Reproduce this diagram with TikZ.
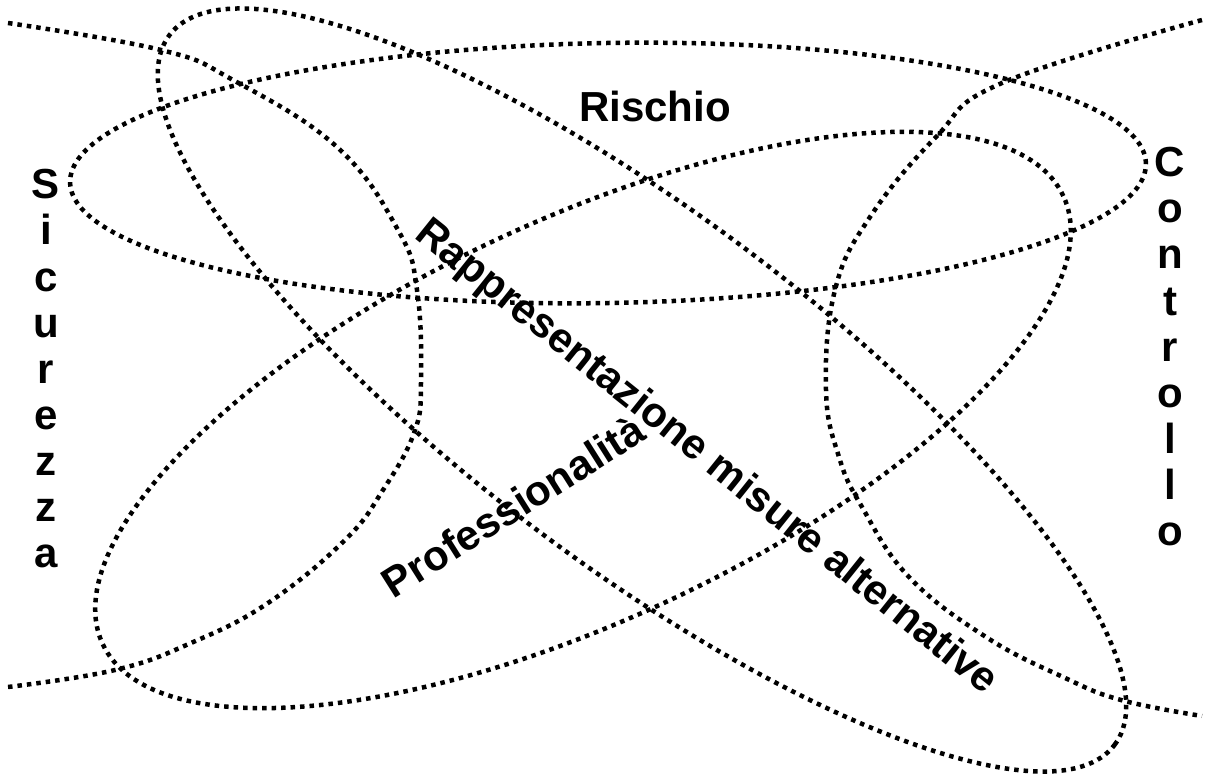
\documentclass[tikz,border=0pt]{standalone}
\usepackage{fontspec}
\setmainfont{Liberation Sans}
\begin{document}
\begin{tikzpicture}[x=1pt,y=-1pt,
  dotline/.style={line width=4.5pt, dash pattern=on 4.5pt off 5pt, black},
  lbl/.style={font=\fontsize{42}{46}\selectfont\bfseries, inner sep=0pt}]
\useasboundingbox[fill=white] (0,0) rectangle (1205,778);
% ellipses
\draw[dotline, rotate around={1:(608,173)}] (608,173) ellipse [x radius=538pt, y radius=130pt];
\draw[dotline, rotate around={25:(583,420)}] (583,420) ellipse [x radius=530pt, y radius=200pt];
\draw[dotline, rotate around={-36.9:(642,390)}] (642,390) ellipse [x radius=591pt, y radius=175pt];
% open curves
\draw[dotline] plot[smooth, tension=0.7] coordinates {(8,23) (161,50) (233,80) (337,147) (398,230) (417,290) (421,383) (414,433) (383,490) (345,540) (268,603) (191,643) (115,670) (8,687)};
\draw[dotline] plot[smooth, tension=0.7] coordinates {(1202,20) (1002,83) (936,137) (870,217) (835,290) (826,390) (839,457) (862,507) (909,577) (986,637) (1063,677) (1121,700) (1202,716)};
% labels
\node[lbl] (ris) at (655,106) {Rischio};
\foreach \ch [count=\i from 0] in {S,i,c,u,r,e,z,z,a}
  \node[lbl, anchor=base] (sic\i) at (46,199+\i*46) {\ch};
\foreach \ch [count=\i from 0] in {C,o,n,t,r,o,l,l,o}
  \node[lbl, anchor=base] (con\i) at (1170,177+\i*46) {\ch};
\node[lbl, rotate=-38.7] (rap) at (706,458) {Rappresentazione misure alternative};
\node[lbl, rotate=32.3] (pro) at (513,506) {Professionalità};
\end{tikzpicture}
\end{document}
